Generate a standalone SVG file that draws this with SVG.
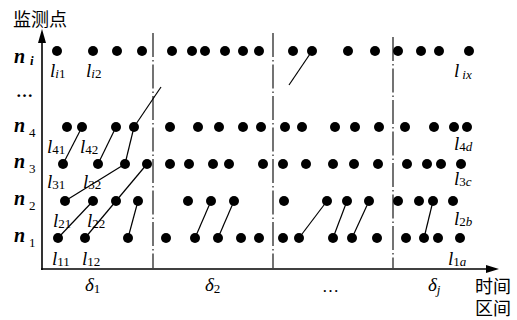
<svg xmlns="http://www.w3.org/2000/svg" width="517" height="320" viewBox="0 0 517 320">
<style>
.d{fill:#000}
.c{stroke:#000;stroke-width:1.2;fill:none}
.ax{stroke:#000;stroke-width:1.6;fill:none}
.dash{stroke:#000;stroke-width:1.1;fill:none;stroke-dasharray:24,3,1.5,3}
.cjk{font-family:"Liberation Sans","Noto Sans CJK SC",sans-serif;font-size:18px;fill:#000}
.n{font-family:"Liberation Serif",serif;font-size:20px;font-weight:bold;font-style:italic;fill:#000}
.ns{font-size:13px;font-weight:normal;font-style:normal}
.l{font-family:"Liberation Serif",serif;font-size:19px;font-style:italic;fill:#000}
.ls{font-size:13px;font-style:normal}
.li{font-size:13px;font-style:italic}
.dl{font-family:"Liberation Serif",serif;font-size:19px;font-style:italic;fill:#000}
</style>
<defs>
<circle id="dot" r="5" class="d"/>
</defs>

<g id="axes">
<line class="ax" x1="42" y1="270" x2="42" y2="40"/>
<polygon points="42,29 38,43 46,43" fill="#000"/>
<line class="ax" x1="41" y1="269" x2="488" y2="269"/>
<polygon points="499,269 486,265 486,273" fill="#000"/>
</g>

<g id="dividers">
<line class="dash" x1="153" y1="33" x2="153" y2="268"/>
<line class="dash" x1="273" y1="33" x2="273" y2="268"/>
<line class="dash" x1="393" y1="37" x2="393" y2="268"/>
</g>

<g id="connectors">
<line class="c" x1="58" y1="238" x2="93" y2="201"/>
<line class="c" x1="85" y1="238" x2="116" y2="201"/>
<line class="c" x1="128" y1="238" x2="138" y2="201"/>
<line class="c" x1="65" y1="201" x2="125" y2="164"/>
<line class="c" x1="116" y1="201" x2="147" y2="164"/>
<line class="c" x1="63" y1="164" x2="82" y2="127"/>
<line class="c" x1="98" y1="164" x2="116" y2="127"/>
<line class="c" x1="125" y1="164" x2="134" y2="127"/>
<line class="c" x1="134" y1="127" x2="161" y2="87"/>
<line class="c" x1="195" y1="238" x2="211" y2="201"/>
<line class="c" x1="218" y1="238" x2="234" y2="201"/>
<line class="c" x1="299" y1="238" x2="327" y2="201"/>
<line class="c" x1="333" y1="238" x2="347" y2="201"/>
<line class="c" x1="352" y1="238" x2="369" y2="201"/>
<line class="c" x1="424" y1="238" x2="433" y2="201"/>
<line class="c" x1="289" y1="85" x2="312" y2="51"/>
</g>

<g id="row-ni">
<g id="ni-1"><use href="#dot" x="57" y="51"/></g>
<g id="ni-2"><use href="#dot" x="93" y="51"/></g>
<g id="ni-3"><use href="#dot" x="117" y="51"/></g>
<g id="ni-4"><use href="#dot" x="142" y="51"/></g>
<g id="ni-5"><use href="#dot" x="172" y="51"/></g>
<g id="ni-6"><use href="#dot" x="192" y="51"/></g>
<g id="ni-7"><use href="#dot" x="205" y="51"/></g>
<g id="ni-8"><use href="#dot" x="225" y="51"/></g>
<g id="ni-9"><use href="#dot" x="243" y="51"/></g>
<g id="ni-10"><use href="#dot" x="259" y="51"/></g>
<g id="ni-11"><use href="#dot" x="293" y="51"/></g>
<g id="ni-12"><use href="#dot" x="312" y="51"/></g>
<g id="ni-13"><use href="#dot" x="348" y="51"/></g>
<g id="ni-14"><use href="#dot" x="375" y="51"/></g>
<g id="ni-15"><use href="#dot" x="398" y="51"/></g>
<g id="ni-16"><use href="#dot" x="421" y="51"/></g>
<g id="ni-17"><use href="#dot" x="439" y="51"/></g>
<g id="ni-18"><use href="#dot" x="469" y="51"/></g>
</g>

<g id="row-n4">
<g id="n4-1"><use href="#dot" x="67" y="127"/></g>
<g id="n4-2"><use href="#dot" x="82" y="127"/></g>
<g id="n4-3"><use href="#dot" x="116" y="127"/></g>
<g id="n4-4"><use href="#dot" x="134" y="127"/></g>
<g id="n4-5"><use href="#dot" x="170" y="127"/></g>
<g id="n4-6"><use href="#dot" x="198" y="127"/></g>
<g id="n4-7"><use href="#dot" x="219" y="127"/></g>
<g id="n4-8"><use href="#dot" x="243" y="127"/></g>
<g id="n4-9"><use href="#dot" x="261" y="127"/></g>
<g id="n4-10"><use href="#dot" x="285" y="127"/></g>
<g id="n4-11"><use href="#dot" x="302" y="127"/></g>
<g id="n4-12"><use href="#dot" x="335" y="127"/></g>
<g id="n4-13"><use href="#dot" x="355" y="127"/></g>
<g id="n4-14"><use href="#dot" x="379" y="127"/></g>
<g id="n4-15"><use href="#dot" x="405" y="127"/></g>
<g id="n4-16"><use href="#dot" x="434" y="127"/></g>
<g id="n4-17"><use href="#dot" x="454" y="127"/></g>
<g id="n4-18"><use href="#dot" x="467" y="127"/></g>
</g>

<g id="row-n3">
<g id="n3-1"><use href="#dot" x="63" y="164"/></g>
<g id="n3-2"><use href="#dot" x="98" y="164"/></g>
<g id="n3-3"><use href="#dot" x="125" y="164"/></g>
<g id="n3-4"><use href="#dot" x="147" y="164"/></g>
<g id="n3-5"><use href="#dot" x="170" y="164"/></g>
<g id="n3-6"><use href="#dot" x="189" y="164"/></g>
<g id="n3-7"><use href="#dot" x="213" y="164"/></g>
<g id="n3-8"><use href="#dot" x="229" y="164"/></g>
<g id="n3-9"><use href="#dot" x="263" y="164"/></g>
<g id="n3-10"><use href="#dot" x="283" y="164"/></g>
<g id="n3-11"><use href="#dot" x="306" y="164"/></g>
<g id="n3-12"><use href="#dot" x="333" y="164"/></g>
<g id="n3-13"><use href="#dot" x="354" y="164"/></g>
<g id="n3-14"><use href="#dot" x="378" y="164"/></g>
<g id="n3-15"><use href="#dot" x="407" y="164"/></g>
<g id="n3-16"><use href="#dot" x="427" y="164"/></g>
<g id="n3-17"><use href="#dot" x="441" y="164"/></g>
<g id="n3-18"><use href="#dot" x="461" y="164"/></g>
</g>

<g id="row-n2">
<g id="n2-1"><use href="#dot" x="65" y="201"/></g>
<g id="n2-2"><use href="#dot" x="93" y="201"/></g>
<g id="n2-3"><use href="#dot" x="116" y="201"/></g>
<g id="n2-4"><use href="#dot" x="138" y="201"/></g>
<g id="n2-5"><use href="#dot" x="188" y="201"/></g>
<g id="n2-6"><use href="#dot" x="211" y="201"/></g>
<g id="n2-7"><use href="#dot" x="234" y="201"/></g>
<g id="n2-8"><use href="#dot" x="284" y="201"/></g>
<g id="n2-9"><use href="#dot" x="327" y="201"/></g>
<g id="n2-10"><use href="#dot" x="347" y="201"/></g>
<g id="n2-11"><use href="#dot" x="369" y="201"/></g>
<g id="n2-12"><use href="#dot" x="398" y="201"/></g>
<g id="n2-13"><use href="#dot" x="419" y="201"/></g>
<g id="n2-14"><use href="#dot" x="433" y="201"/></g>
<g id="n2-15"><use href="#dot" x="453" y="201"/></g>
</g>

<g id="row-n1">
<g id="n1-1"><use href="#dot" x="58" y="238"/></g>
<g id="n1-2"><use href="#dot" x="85" y="238"/></g>
<g id="n1-3"><use href="#dot" x="128" y="238"/></g>
<g id="n1-4"><use href="#dot" x="166" y="238"/></g>
<g id="n1-5"><use href="#dot" x="195" y="238"/></g>
<g id="n1-6"><use href="#dot" x="218" y="238"/></g>
<g id="n1-7"><use href="#dot" x="241" y="238"/></g>
<g id="n1-8"><use href="#dot" x="259" y="238"/></g>
<g id="n1-9"><use href="#dot" x="283" y="238"/></g>
<g id="n1-10"><use href="#dot" x="299" y="238"/></g>
<g id="n1-11"><use href="#dot" x="333" y="238"/></g>
<g id="n1-12"><use href="#dot" x="352" y="238"/></g>
<g id="n1-13"><use href="#dot" x="377" y="238"/></g>
<g id="n1-14"><use href="#dot" x="406" y="238"/></g>
<g id="n1-15"><use href="#dot" x="424" y="238"/></g>
<g id="n1-16"><use href="#dot" x="438" y="238"/></g>
<g id="n1-17"><use href="#dot" x="460" y="238"/></g>
</g>

<g id="axis-labels">
<text class="cjk" x="13" y="26">监测点</text>
<text class="cjk" x="475" y="293">时间</text>
<text class="cjk" x="475" y="315">区间</text>
<text class="n" x="14" y="63">n<tspan x="30" y="65" font-size="13">i</tspan></text>
<text x="16" y="97" font-family="Liberation Serif,serif" font-size="17" font-weight="bold">…</text>
<text class="n" x="14" y="132">n<tspan class="ns" x="29" y="137">4</tspan></text>
<text class="n" x="14" y="168">n<tspan class="ns" x="29" y="173">3</tspan></text>
<text class="n" x="14" y="205">n<tspan class="ns" x="29" y="210">2</tspan></text>
<text class="n" x="14" y="242">n<tspan class="ns" x="29" y="247">1</tspan></text>
<text class="dl" x="85" y="291">δ<tspan font-size="13" font-style="normal" dy="2">1</tspan></text>
<text class="dl" x="205" y="291">δ<tspan font-size="13" font-style="normal" dy="2">2</tspan></text>
<text x="322" y="292" font-family="Liberation Serif,serif" font-size="17">…</text>
<text class="dl" x="428" y="291">δ<tspan font-size="13" dy="3">j</tspan></text>
</g>

<g id="link-labels">
<text class="l" x="50" y="77">l<tspan class="li" dy="1">i</tspan><tspan class="ls">1</tspan></text>
<text class="l" x="86" y="77">l<tspan class="li" dy="1">i</tspan><tspan class="ls">2</tspan></text>
<text class="l" x="47" y="153">l<tspan class="ls" dy="1">41</tspan></text>
<text class="l" x="80" y="153">l<tspan class="ls" dy="1">42</tspan></text>
<text class="l" x="47" y="188">l<tspan class="ls" dy="1">31</tspan></text>
<text class="l" x="83" y="188">l<tspan class="ls" dy="1">32</tspan></text>
<text class="l" x="53" y="227">l<tspan class="ls" dy="1">21</tspan></text>
<text class="l" x="87" y="227">l<tspan class="ls" dy="1">22</tspan></text>
<text class="l" x="52" y="265">l<tspan class="ls" dy="1">11</tspan></text>
<text class="l" x="82" y="265">l<tspan class="ls" dy="1">12</tspan></text>
<text class="l" x="454" y="77">l<tspan class="li" dy="2" font-size="11" dx="3">ix</tspan></text>
<text class="l" x="454" y="150">l<tspan class="ls" dy="1">4</tspan><tspan class="li">d</tspan></text>
<text class="l" x="454" y="185">l<tspan class="ls" dy="1">3</tspan><tspan class="li">c</tspan></text>
<text class="l" x="454" y="225">l<tspan class="ls" dy="1">2</tspan><tspan class="li">b</tspan></text>
<text class="l" x="448" y="265">l<tspan class="ls" dy="1">1</tspan><tspan class="li">a</tspan></text>
</g>
</svg>
